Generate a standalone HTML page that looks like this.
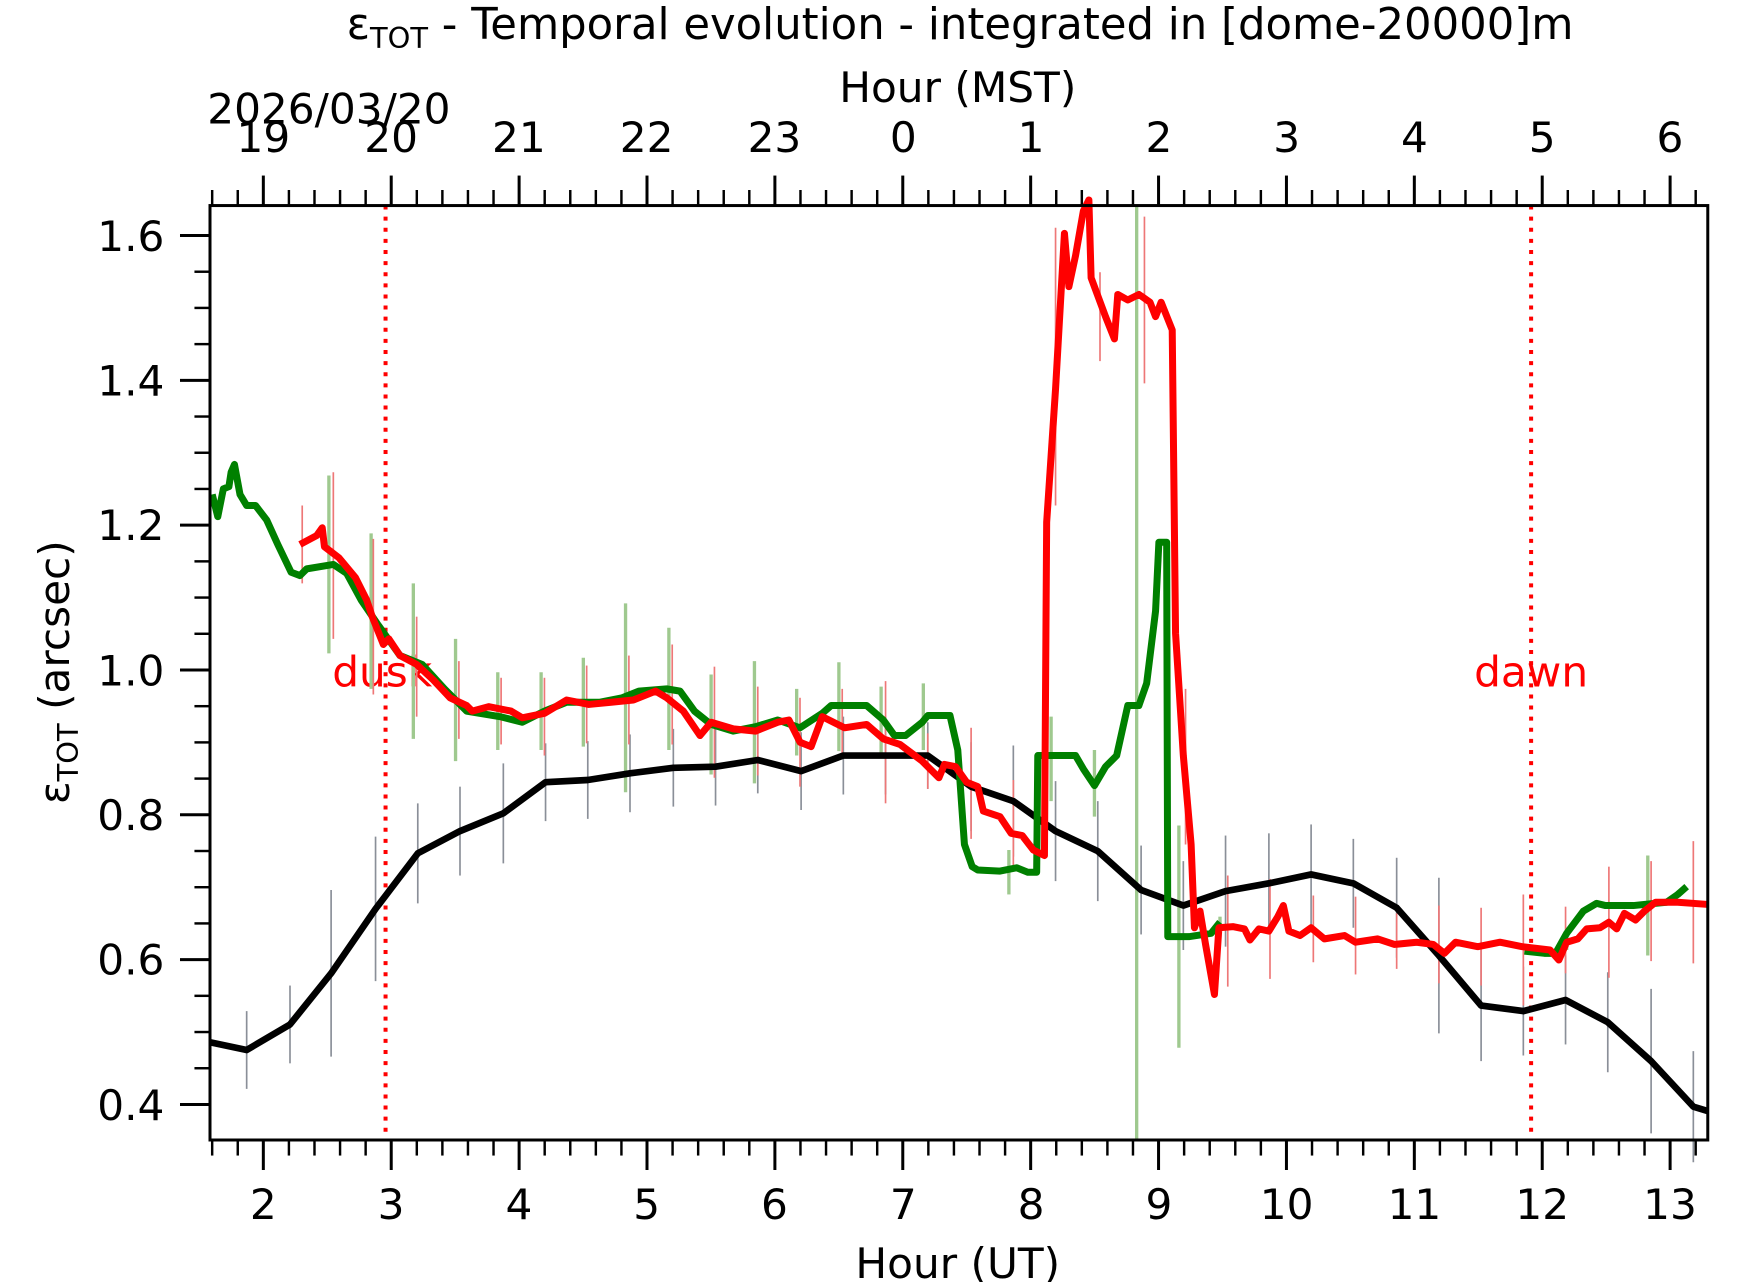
<!DOCTYPE html>
<html><head><meta charset="utf-8"><style>
html,body{margin:0;padding:0;background:#fff;width:1742px;height:1282px;overflow:hidden}
svg{display:block}
text{font-family:"DejaVu Sans","Liberation Sans",sans-serif;fill:#000}
</style></head><body>
<svg width="1742" height="1282" viewBox="0 0 1567.8 1153.8" preserveAspectRatio="none" xmlns="http://www.w3.org/2000/svg">
<rect width="1567.8" height="1153.8" fill="#fff"/>
<text x="864" y="35" font-size="39" text-anchor="middle">ε<tspan font-size="26" dy="8">TOT</tspan><tspan dy="-8"> - Temporal evolution - integrated in [dome-20000]m</tspan></text>
<text x="862" y="92" font-size="38" text-anchor="middle">Hour (MST)</text>
<text x="296" y="111" font-size="38" text-anchor="middle">2026/03/20</text>
<g font-size="38" text-anchor="middle">
<text x="237" y="137">19</text><text x="352" y="137">20</text><text x="467" y="137">21</text><text x="582" y="137">22</text><text x="697" y="137">23</text><text x="813" y="137">0</text><text x="928" y="137">1</text><text x="1043" y="137">2</text><text x="1158" y="137">3</text><text x="1273" y="137">4</text><text x="1388" y="137">5</text><text x="1503" y="137">6</text>
</g>
<g font-size="38" text-anchor="middle">
<text x="237" y="1097">2</text><text x="352" y="1097">3</text><text x="467" y="1097">4</text><text x="582" y="1097">5</text><text x="697" y="1097">6</text><text x="813" y="1097">7</text><text x="928" y="1097">8</text><text x="1043" y="1097">9</text><text x="1158" y="1097">10</text><text x="1273" y="1097">11</text><text x="1388" y="1097">12</text><text x="1503" y="1097">13</text>
</g>
<text x="862" y="1150" font-size="38" text-anchor="middle">Hour (UT)</text>
<g font-size="38" text-anchor="end">
<text x="148" y="226">1.6</text><text x="148" y="356">1.4</text><text x="148" y="486">1.2</text><text x="148" y="617">1.0</text><text x="148" y="747">0.8</text><text x="148" y="877">0.6</text><text x="148" y="1008">0.4</text>
</g>
<text transform="translate(62,605) rotate(-90)" font-size="38" text-anchor="middle">ε<tspan font-size="26" dy="8">TOT</tspan><tspan dy="-8"> (arcsec)</tspan></text>
<g id="ticks" stroke="#000" stroke-width="2.2"></g>
<line x1="347" y1="185" x2="347" y2="1026" stroke="#f00" stroke-width="3.6" stroke-dasharray="3.6,6.4"/>
<line x1="1378" y1="185" x2="1378" y2="1026" stroke="#f00" stroke-width="3.6" stroke-dasharray="3.6,6.4"/>
<text x="344" y="618" font-size="38" text-anchor="middle" style="fill:#f00">dusk</text>
<text x="1378" y="618" font-size="38" text-anchor="middle" style="fill:#f00">dawn</text>
<line x1="1023" y1="185" x2="1023" y2="1026" stroke="#9fc98f" stroke-width="3"/>
<g id="eb"></g>
<polyline fill="none" stroke="#000" stroke-width="6" stroke-linejoin="round" points="189,938 222,945 261,922 298,876 338,818 376,768 414,748 453,732 491,704 529,702 567,696 606,691 644,690 682,684 721,694 759,680 797,680 835,680 874,708 912,721 950,748 988,766 1027,801 1065,815 1103,802 1142,795 1180,787 1218,795 1257,817 1295,860 1333,905 1371,910 1409,900 1447,920 1486,955 1524,996 1537,1000"/>
<polyline fill="none" stroke="#008000" stroke-width="6.3" stroke-linejoin="round" points="191,445 196,465 201,440 206,438 208,425 211,418 216,445 222,455 230,455 240,468 250,490 262,515 270,518 276,512 300,508 312,516 325,540 340,562 360,590 380,598 400,620 420,640 450,645 470,650 490,640 510,632 540,632 560,628 575,622 600,620 612,622 625,640 640,652 660,658 680,654 700,648 720,655 740,642 748,635 780,635 795,648 805,662 815,662 830,650 835,644 855,644 862,675 868,760 875,780 880,783 900,784 915,781 925,785 933,785 934,680 968,680 975,692 985,707 995,690 1005,680 1015,635 1025,635 1032,615 1040,550 1043,488 1050,488 1051,843 1070,843 1090,840 1098,830"/>
<polyline fill="none" stroke="#008000" stroke-width="6.3" stroke-linejoin="round" points="1372,856 1390,858 1400,858 1410,840 1425,820 1437,813 1445,815 1470,815 1500,812 1510,805 1518,798"/>
<polyline fill="none" stroke="#f00" stroke-width="6.3" stroke-linejoin="round" points="270,490 285,482 290,475 292,492 305,502 320,520 330,540 335,555 345,580 350,575 360,590 375,598 390,612 405,628 420,635 425,640 440,636 460,640 470,646 490,642 510,630 530,634 550,632 570,630 590,622 600,628 615,640 630,662 640,650 660,656 680,658 700,650 710,648 720,668 730,672 740,645 760,655 780,652 795,665 810,670 830,685 845,700 850,688 860,690 870,704 880,708 885,730 900,735 910,750 920,752 930,765 940,770 942,470 950,350 958,210 962,258 968,230 975,190 980,180 982,250 995,285 1003,305 1006,265 1015,270 1025,265 1035,272 1040,285 1045,272 1055,297 1058,570 1065,680 1072,760 1075,835 1080,820 1085,850 1093,895 1097,835 1110,834 1120,836 1125,846 1133,836 1142,838 1150,825 1155,815 1160,838 1170,842 1180,835 1192,845 1210,842 1220,848 1240,845 1255,850 1275,848 1290,850 1300,858 1310,848 1330,852 1350,848 1370,852 1395,855 1403,864 1410,848 1420,845 1428,836 1440,835 1448,830 1455,836 1462,822 1472,828 1480,820 1490,812 1510,812 1537,814"/>
<rect x="189" y="185" width="1348" height="841" fill="none" stroke="#000" stroke-width="2.7"/>
<script>
(function(){
var ns="http://www.w3.org/2000/svg",g=document.getElementById("ticks");
function L(x1,y1,x2,y2,p,c,w){var l=document.createElementNS(ns,"line");l.setAttribute("x1",x1);l.setAttribute("y1",y1);l.setAttribute("x2",x2);l.setAttribute("y2",y2);if(c){l.setAttribute("stroke",c);l.setAttribute("stroke-width",w)}p.appendChild(l)}
for(var i=0;;i++){var h=1.6+i*0.2;var x=237+(h-2)*115.1;if(x>1537.5)break;if(x<188.5)continue;var maj=Math.abs(h-Math.round(h))<0.01;var len=maj?27:14;var w=maj?2.7:2.2;
L(x,1026,x,1026+len,g,"#000",w);L(x,185,x,185-len,g,"#000",w);}
for(var j=0;j<=25;j++){var v=0.35+j*0.05;var y=994-(v-0.4)*651.7;if(y<185||y>1026.5)continue;var maj=Math.abs(v*5-Math.round(v*5))<0.01;L(189,y,maj?162:175,y,g,"#000",maj?2.7:2.2);}
var eb=document.getElementById("eb");
var blk=[[222,945,35],[261,922,35],[298,876,75],[338,818,65],[376,768,45],[414,748,40],[453,732,45],[491,704,35],[529,702,35],[567,696,35],[606,691,35],[644,690,35],[682,684,30],[721,694,35],[759,680,35],[797,680,35],[835,680,30],[874,708,40],[912,721,50],[950,748,45],[988,766,45],[1027,801,40],[1065,815,40],[1103,802,50],[1142,795,45],[1180,787,45],[1218,795,40],[1257,817,45],[1295,860,70],[1333,905,50],[1371,910,40],[1409,900,40],[1447,920,45],[1486,955,65],[1524,996,50]];
blk.forEach(function(b){L(b[0],b[1]-b[2],b[0],b[1]+b[2],eb,"#8a8f98",1.5)});
var grn=[[296,508,80],[334,550,70],[372,595,70],[410,630,55],[448,640,35],[487,640,35],[525,632,40],[563,628,85],[602,620,55],[640,652,45],[679,650,55],[717,650,30],[755,636,40],[793,648,30],[831,645,30],[908,785,20],[946,683,38],[985,705,30],[1061,843,100],[1098,830,5],[1410,845,10],[1483,815,45]];
grn.forEach(function(b){L(b[0],b[1]-b[2],b[0],b[1]+b[2],eb,"#9fc98f",3)});
var red=[[272,490,35],[300,500,75],[336,555,70],[375,600,45],[413,630,35],[451,640,30],[490,645,35],[528,634,35],[566,630,40],[605,625,45],[643,650,50],[682,658,40],[720,668,40],[758,650,30],[797,668,55],[835,685,25],[874,705,50],[912,742,40],[950,330,125],[990,285,40],[1030,270,75],[1067,690,70],[1105,838,50],[1143,836,45],[1182,836,30],[1220,842,35],[1257,847,25],[1295,850,35],[1333,852,35],[1371,855,50],[1409,846,30],[1448,830,50],[1486,820,45],[1524,812,55]];
red.forEach(function(b){L(b[0],b[1]-b[2],b[0],b[1]+b[2],eb,"#e77",1.5)});
})();
</script>
</svg>
</body></html>
